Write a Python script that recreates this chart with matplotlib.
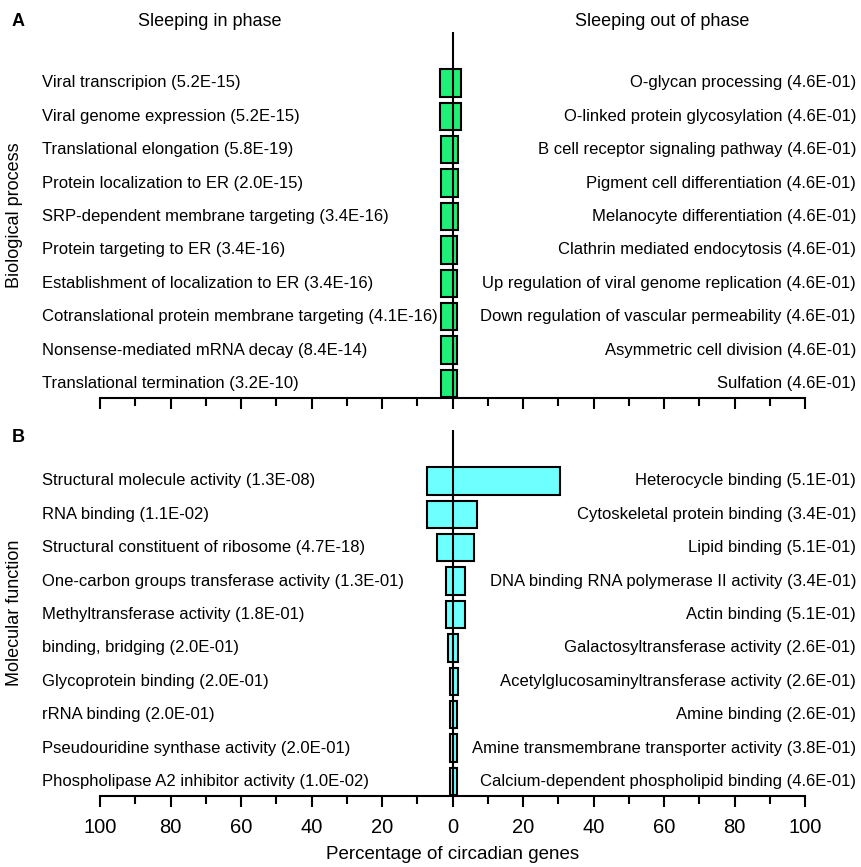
import matplotlib
matplotlib.use("Agg")
import matplotlib.pyplot as plt
import matplotlib.transforms as mtransforms
from matplotlib.ticker import MultipleLocator, FuncFormatter

plt.rcParams['font.family'] = ['Liberation Sans', 'DejaVu Sans']

# Panel A - biological process
bp_in_labels = ["Viral transcripion (5.2E-15)",
                "Viral genome expression (5.2E-15)",
                "Translational elongation (5.8E-19)",
                "Protein localization to ER (2.0E-15)",
                "SRP-dependent membrane targeting (3.4E-16)",
                "Protein targeting to ER (3.4E-16)",
                "Establishment of localization to ER (3.4E-16)",
                "Cotranslational protein membrane targeting (4.1E-16)",
                "Nonsense-mediated mRNA decay (8.4E-14)",
                "Translational termination (3.2E-10)"]
bp_out_labels = ["O-glycan processing (4.6E-01)",
                 "O-linked protein glycosylation (4.6E-01)",
                 "B cell receptor signaling pathway (4.6E-01)",
                 "Pigment cell differentiation (4.6E-01)",
                 "Melanocyte differentiation (4.6E-01)",
                 "Clathrin mediated endocytosis (4.6E-01)",
                 "Up regulation of viral genome replication (4.6E-01)",
                 "Down regulation of vascular permeability (4.6E-01)",
                 "Asymmetric cell division (4.6E-01)",
                 "Sulfation (4.6E-01)"]
bp_in_pct = [3.5, 3.5, 3.4, 3.4, 3.4, 3.3, 3.3, 3.3, 3.2, 3.2]
bp_out_pct = [2.3, 2.3, 1.7, 1.7, 1.7, 1.3, 1.3, 1.3, 1.3, 1.3]

# Panel B - molecular function
mf_in_labels = ["Structural molecule activity (1.3E-08)",
                "RNA binding (1.1E-02)",
                "Structural constituent of ribosome (4.7E-18)",
                "One-carbon groups transferase activity (1.3E-01)",
                "Methyltransferase activity (1.8E-01)",
                "binding, bridging (2.0E-01)",
                "Glycoprotein binding (2.0E-01)",
                "rRNA binding (2.0E-01)",
                "Pseudouridine synthase activity (2.0E-01)",
                "Phospholipase A2 inhibitor activity (1.0E-02)"]
mf_out_labels = ["Heterocycle binding (5.1E-01)",
                 "Cytoskeletal protein binding (3.4E-01)",
                 "Lipid binding (5.1E-01)",
                 "DNA binding RNA polymerase II activity (3.4E-01)",
                 "Actin binding (5.1E-01)",
                 "Galactosyltransferase activity (2.6E-01)",
                 "Acetylglucosaminyltransferase activity (2.6E-01)",
                 "Amine binding (2.6E-01)",
                 "Amine transmembrane transporter activity (3.8E-01)",
                 "Calcium-dependent phospholipid binding (4.6E-01)"]
mf_in_pct = [7.3, 7.1, 4.4, 1.9, 1.9, 1.4, 0.8, 0.8, 0.8, 0.8]
mf_out_pct = [30.5, 6.9, 6.0, 3.5, 3.6, 1.6, 1.6, 1.3, 1.2, 1.2]

W, H = 861, 867
fig = plt.figure(figsize=(W / 100, H / 100), dpi=100)

def px_axes(x0, y0, x1, y1):
    return fig.add_axes([x0 / W, 1 - y1 / H, (x1 - x0) / W, (y1 - y0) / H])

def draw_panel(ax, in_labels, out_labels, in_pct, out_pct, color, show_labels):
    n = len(in_labels)
    ypos = [n - 1 - i for i in range(n)]
    lefts = [-v for v in in_pct]
    widths = [a + b for a, b in zip(in_pct, out_pct)]
    ax.barh(ypos, widths, left=lefts, height=0.82, color=color,
            edgecolor='black', linewidth=1.5, zorder=2)
    ax.axvline(0, color='black', linewidth=1.5, zorder=3)
    ax.set_xlim(-100, 100)
    ax.set_ylim(-0.43, n - 1 + 1.52)
    for s in ['top', 'left', 'right']:
        ax.spines[s].set_visible(False)
    ax.spines['bottom'].set_linewidth(1.5)
    ax.set_yticks([])
    ax.xaxis.set_major_locator(MultipleLocator(20))
    ax.xaxis.set_minor_locator(MultipleLocator(10))
    ax.tick_params(axis='x', which='major', length=8, width=1.5, direction='out')
    ax.tick_params(axis='x', which='minor', length=5.5, width=1.5, direction='out')
    if show_labels:
        ax.xaxis.set_major_formatter(FuncFormatter(lambda v, p: f"{abs(v):.0f}"))
        ax.tick_params(axis='x', which='major', labelsize=14.5, pad=8)
    else:
        ax.set_xticklabels([])
    tr = mtransforms.blended_transform_factory(fig.transFigure, ax.transData)
    for y, lab in zip(ypos, in_labels):
        ax.text(42 / W, y, lab, transform=tr, ha='left', va='center',
                fontsize=12, clip_on=False)
    for y, lab in zip(ypos, out_labels):
        ax.text(856 / W, y, lab, transform=tr, ha='right', va='center',
                fontsize=12, clip_on=False)

axA = px_axes(100, 32, 805, 398)
draw_panel(axA, bp_in_labels, bp_out_labels, bp_in_pct, bp_out_pct,
           '#1ef078', False)
axB = px_axes(100, 430, 805, 796)
draw_panel(axB, mf_in_labels, mf_out_labels, mf_in_pct, mf_out_pct,
           '#6effff', True)
axB.set_xlabel("Percentage of circadian genes", fontsize=13.5, labelpad=6)

fig.text(210 / W, 1 - 21 / H, "Sleeping in phase", ha='center', va='center', fontsize=13)
fig.text(662 / W, 1 - 21 / H, "Sleeping out of phase", ha='center', va='center', fontsize=13)
fig.text(12 / W, 1 - 21 / H, "A", ha='left', va='center', fontsize=13, fontweight='bold')
fig.text(12 / W, 1 - 438 / H, "B", ha='left', va='center', fontsize=13, fontweight='bold')
fig.text(15 / W, 1 - 215 / H, "Biological process", rotation=90, ha='center', va='center', fontsize=13)
fig.text(15 / W, 1 - 613 / H, "Molecular function", rotation=90, ha='center', va='center', fontsize=13)

fig.savefig("out.png", dpi=100, facecolor='white')
